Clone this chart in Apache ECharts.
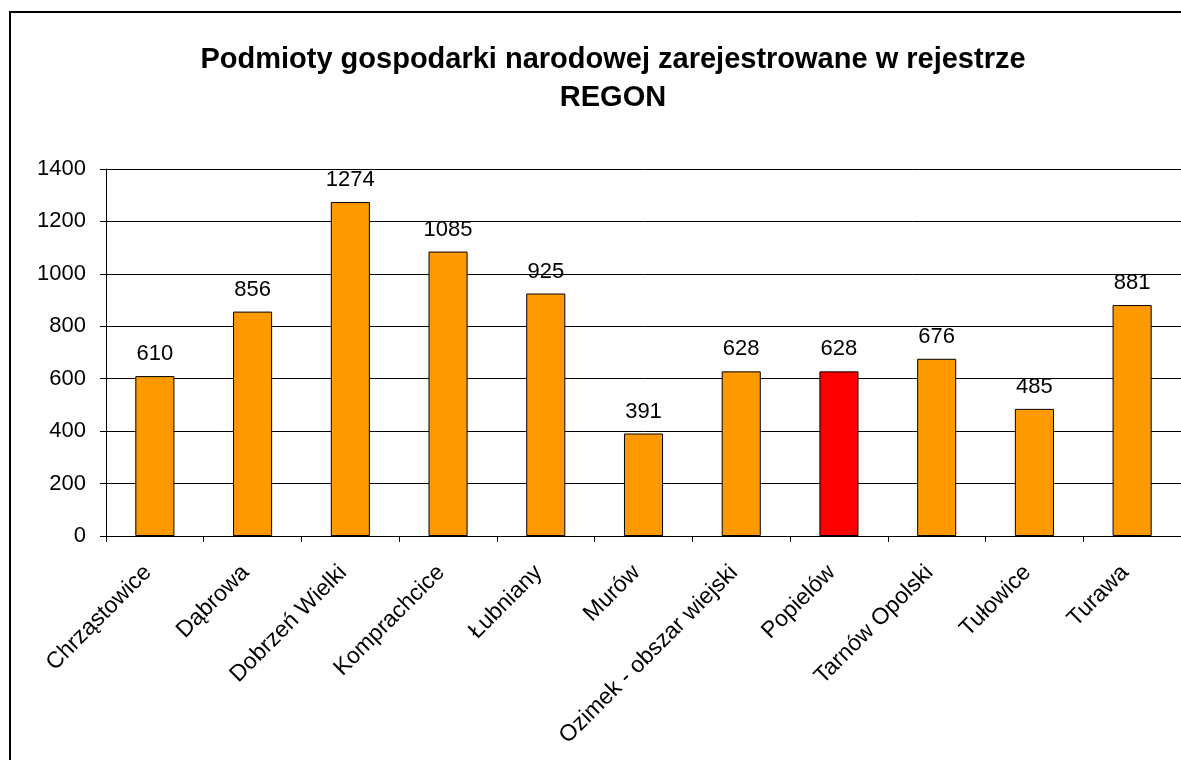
<!DOCTYPE html>
<html>
<head>
<meta charset="utf-8">
<script src="https://cdn.jsdelivr.net/npm/echarts@6/dist/echarts.min.js"></script>
<style>
  html, body { margin: 0; padding: 0; background: #fff; }
  #chart { width: 1181px; height: 760px; }
</style>
</head>
<body>
<div id="chart"></div>
<script>
// gminy powiatu opolskiego
var categories = ['Chrząstowice', 'Dąbrowa', 'Dobrzeń Wielki', 'Komprachcice', 'Łubniany',
  'Murów', 'Ozimek - obszar wiejski', 'Popielów', 'Tarnów Opolski', 'Tułowice', 'Turawa'];
var values = [610, 856, 1274, 1085, 925, 391, 628, 628, 676, 485, 881];
var highlighted = 'Popielów';

var fontName = '"Liberation Sans", Arial, sans-serif';

var chart = echarts.init(document.getElementById('chart'));

var barData = [];
for (var i = 0; i < values.length; ++i) {
  barData.push({
    value: values[i],
    itemStyle: { color: categories[i] == highlighted ? '#FF0000' : '#FF9900' }
  });
}

var option = {
  animation: false,
  title: {
    text: 'Podmioty gospodarki narodowej zarejestrowane w rejestrze\nREGON',
    left: 608,
    top: 36,
    textAlign: 'center',
    textStyle: {
      fontFamily: fontName,
      fontWeight: 'bold',
      fontSize: 29,
      lineHeight: 38,
      color: '#000'
    }
  },
  graphic: [{
    type: 'rect',
    shape: { x: 10, y: 12, width: 1250, height: 850 },
    style: { fill: null, stroke: '#000', lineWidth: 2 },
    silent: true
  }],
  grid: {
    left: 106,
    top: 169,
    right: 0,
    bottom: 224,
    containLabel: false
  },
  xAxis: {
    type: 'category',
    data: categories,
    axisLine: { lineStyle: { color: '#000', width: 1 } },
    axisTick: { show: true, length: 6, lineStyle: { color: '#000' } },
    axisLabel: {
      rotate: 45,
      interval: 0,
      margin: 26,
      padding: [0, 10, 0, 0],
      fontFamily: fontName,
      fontSize: 23,
      color: '#000'
    }
  },
  yAxis: {
    type: 'value',
    min: 0,
    max: 1400,
    interval: 200,
    axisLine: { show: true, lineStyle: { color: '#000', width: 1 } },
    axisTick: { show: true, length: 6, lineStyle: { color: '#000' } },
    splitLine: { lineStyle: { color: '#000', width: 1 } },
    axisLabel: {
      margin: 20,
      fontFamily: fontName,
      fontSize: 22,
      color: '#000',
      formatter: function (v) { return String(v); }
    }
  },
  series: [{
    type: 'bar',
    data: barData,
    barWidth: '40%',
    itemStyle: { borderColor: '#000', borderWidth: 1 },
    label: {
      show: true,
      position: 'top',
      distance: 11,
      fontFamily: fontName,
      fontSize: 22,
      color: '#000'
    }
  }]
};

chart.setOption(option);
</script>
</body>
</html>
